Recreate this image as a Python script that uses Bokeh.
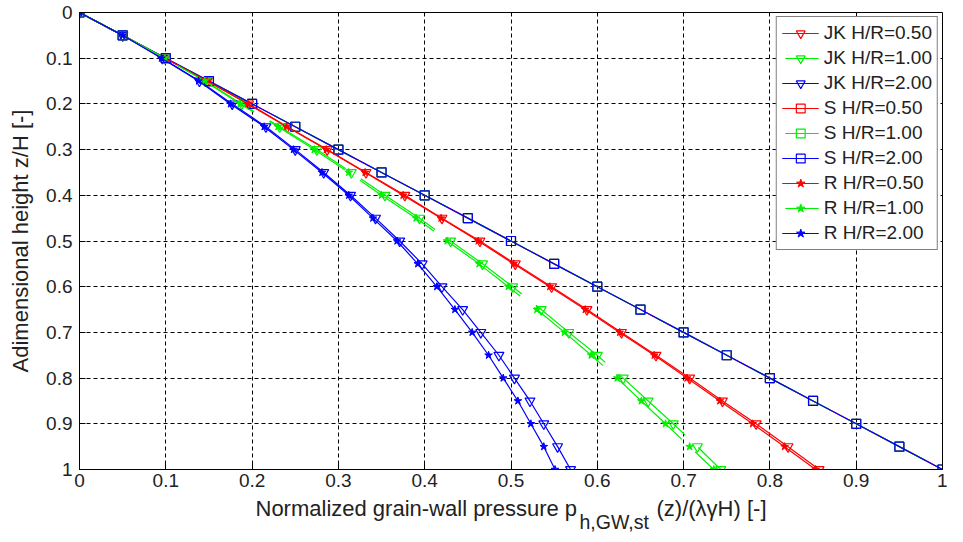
from bokeh.plotting import figure
from bokeh.models import Range1d, FixedTicker, Title
from bokeh.embed import file_html
from bokeh.resources import INLINE

# ---- data ----
z = [0.00, 0.05, 0.10, 0.15, 0.20, 0.25, 0.30, 0.35, 0.40, 0.45, 0.50,
     0.55, 0.60, 0.65, 0.70, 0.75, 0.80, 0.85, 0.90, 0.95, 1.00]

jk_050 = [0.000, 0.050, 0.099, 0.148, 0.196, 0.241, 0.287, 0.332, 0.377, 0.420, 0.464,
          0.505, 0.547, 0.588, 0.628, 0.668, 0.707, 0.745, 0.784, 0.821, 0.857]
jk_100 = [0.000, 0.050, 0.099, 0.146, 0.188, 0.232, 0.275, 0.315, 0.354, 0.394, 0.430,
          0.467, 0.502, 0.535, 0.567, 0.600, 0.630, 0.659, 0.688, 0.716, 0.743]
jk_200 = [0.000, 0.050, 0.096, 0.139, 0.177, 0.216, 0.250, 0.283, 0.314, 0.343, 0.371,
          0.397, 0.420, 0.444, 0.465, 0.486, 0.504, 0.522, 0.538, 0.554, 0.569]

s_050 = [0.00, 0.05, 0.10, 0.15, 0.20, 0.25, 0.30, 0.35, 0.40, 0.45, 0.50,
         0.55, 0.60, 0.65, 0.70, 0.75, 0.80, 0.85, 0.90, 0.95, 1.00]
s_100 = [0.00, 0.05, 0.10, 0.15, 0.20, 0.25, 0.30, 0.35, 0.40, 0.45, 0.50,
         0.55, 0.60, 0.65, 0.70, 0.75, 0.80, 0.85, 0.90, 0.95, 1.00]
s_200 = [0.00, 0.05, 0.10, 0.15, 0.20, 0.25, 0.30, 0.35, 0.40, 0.45, 0.50,
         0.55, 0.60, 0.65, 0.70, 0.75, 0.80, 0.85, 0.90, 0.95, 1.00]

r_050 = [0.000, 0.050, 0.099, 0.148, 0.195, 0.240, 0.286, 0.331, 0.375, 0.419, 0.462,
         0.503, 0.545, 0.586, 0.626, 0.666, 0.704, 0.742, 0.780, 0.817, 0.853]
r_100 = [0.000, 0.050, 0.099, 0.145, 0.186, 0.230, 0.272, 0.312, 0.350, 0.390, 0.426,
         0.463, 0.497, 0.530, 0.562, 0.593, 0.623, 0.651, 0.679, 0.707, 0.735]
r_200 = [0.000, 0.050, 0.095, 0.138, 0.175, 0.214, 0.248, 0.281, 0.312, 0.340, 0.368,
         0.392, 0.414, 0.435, 0.455, 0.474, 0.491, 0.508, 0.523, 0.538, 0.551]

series_labels = ["JK H/R=0.50", "JK H/R=1.00", "JK H/R=2.00",
                 "S H/R=0.50", "S H/R=1.00", "S H/R=2.00",
                 "R H/R=0.50", "R H/R=1.00", "R H/R=2.00"]
series_values = [jk_050, jk_100, jk_200, s_050, s_100, s_200, r_050, r_100, r_200]

tick_values = [0.0, 0.1, 0.2, 0.3, 0.4, 0.5, 0.6, 0.7, 0.8, 0.9, 1.0]
tick_labels = ["0", "0.1", "0.2", "0.3", "0.4", "0.5", "0.6", "0.7", "0.8", "0.9", "1"]

x_title_main = "Normalized grain-wall pressure p"
x_title_sub = "h,GW,st"
x_title_rest = "(z)/(\u03bb\u03b3H) [-]"
y_title = "Adimensional height z/H [-]"

# ---- styles / layout ----
colors = ["#ff0000", "#00f000", "#0000ff"] * 3
markers = ["inverted_triangle"] * 3 + ["square"] * 3 + ["star"] * 3
dashes = ["solid", "90 18", "solid"] * 3
FONT = "Liberation Sans"

W, H = 947, 534
BL, BR, BT = 79, 5, 12
FRAME_BOTTOM = 469
SUB_GAP = "\u00a0" * 13          # room left in the title row for the subscript
SUB_OFFSET = 500                  # px from the frame's left edge to the subscript

p = figure(width=W, height=H, output_backend="svg", toolbar_location=None,
           x_range=Range1d(0, 1), y_range=Range1d(1, 0),
           min_border_left=BL, min_border_right=BR, min_border_top=BT,
           min_border_bottom=H - FRAME_BOTTOM)
p.background_fill_color = "white"
p.border_fill_color = "white"
p.outline_line_color = "black"
p.outline_line_width = 1

for lab, vals, col, mk, dash in zip(series_labels, series_values, colors, markers, dashes):
    p.line(vals, z, line_color=col, line_width=1.2, line_dash=dash,
           line_dash_offset=105 if dash != "solid" else 0, legend_label=lab)
    if mk == "star":
        p.scatter(vals, z, marker=mk, size=8, line_color=col, fill_color=col, legend_label=lab)
    elif mk == "square":
        p.scatter(vals, z, marker=mk, size=9, line_color=col, fill_color=None,
                  line_width=1.2, legend_label=lab)
    else:
        p.scatter(vals, z, marker=mk, size=10, line_color=col, fill_color=None,
                  line_width=1.2, legend_label=lab)

overrides = {v: t for v, t in zip(tick_values, tick_labels)}

for ax in (p.xaxis[0], p.yaxis[0]):
    ax.ticker = FixedTicker(ticks=tick_values)
    ax.major_label_overrides = overrides
    ax.axis_line_color = "black"
    ax.major_tick_line_color = "black"
    ax.major_tick_in = 6
    ax.major_tick_out = 0
    ax.minor_tick_line_color = None
    ax.major_label_text_font = FONT
    ax.major_label_text_font_size = "19px"
    ax.major_label_text_color = "#222222"
    ax.major_label_standoff = 7
p.xaxis[0].major_label_standoff = 4

p.yaxis[0].axis_label = y_title
p.yaxis[0].axis_label_text_font = FONT
p.yaxis[0].axis_label_text_font_size = "22px"
p.yaxis[0].axis_label_text_font_style = "normal"
p.yaxis[0].axis_label_text_color = "#222222"
p.yaxis[0].axis_label_standoff = 10

p.xaxis[0].axis_label = x_title_main + SUB_GAP + x_title_rest
p.xaxis[0].axis_label_text_font = FONT
p.xaxis[0].axis_label_text_font_size = "22px"
p.xaxis[0].axis_label_text_font_style = "normal"
p.xaxis[0].axis_label_text_color = "#222222"
p.xaxis[0].axis_label_standoff = 6

sub = Title(text=x_title_sub, align="left", vertical_align="top", offset=SUB_OFFSET,
            standoff=-26, text_font=FONT, text_font_size="19.5px",
            text_font_style="normal", text_color="#222222")
p.add_layout(sub, "below")

p.xgrid.ticker = FixedTicker(ticks=tick_values)
p.ygrid.ticker = FixedTicker(ticks=tick_values)
p.grid.grid_line_color = "black"
p.grid.grid_line_alpha = 1.0
p.grid.grid_line_dash = "4 3"
p.grid.grid_line_width = 1

lg = p.legend[0]
lg.location = "top_right"
lg.margin = 4
lg.padding = 5
lg.spacing = 3
lg.glyph_width = 37
lg.glyph_height = 22
lg.label_height = 22
lg.label_standoff = 5
lg.label_text_font = FONT
lg.label_text_font_size = "19px"
lg.label_text_color = "#222222"
lg.border_line_color = "black"
lg.border_line_width = 1
lg.background_fill_alpha = 1

open("out.html", "w").write(file_html(p, INLINE))
